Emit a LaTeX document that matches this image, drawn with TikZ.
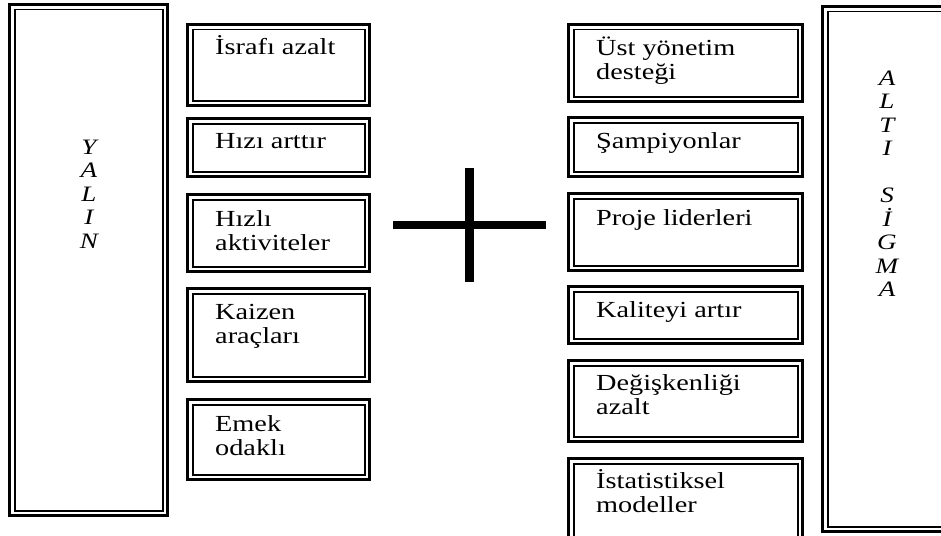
\documentclass[tikz,border=0pt]{standalone}
\usepackage{fontspec}
\setmainfont[FakeStretch=1.23]{Liberation Serif}
\begin{document}
\begin{tikzpicture}[x=1pt,y=-1pt,
  dbox/.style={draw=black, line width=3.2pt, rectangle, inner sep=0pt, outer sep=0pt, anchor=north west,
    path picture={\draw[line width=1.8pt] ([shift={(5pt,-5pt)}]path picture bounding box.north west) rectangle ([shift={(-5pt,5pt)}]path picture bounding box.south east);}},
  btext/.style={anchor=base west, inner sep=0pt, font=\fontsize{23}{24}\selectfont, align=left},
  vlet/.style={anchor=base, inner sep=0pt, font=\fontsize{22}{24}\selectfont\itshape},
  bar/.style={line width=#1, draw=black}
]
\useasboundingbox (0,0) rectangle (941,535);
\clip (0,0) rectangle (941,535);
% tall boxes
\node[dbox, minimum width=158pt, minimum height=511pt] (yalin) at (9.6,4.6) {};
\node[dbox, minimum width=129pt, minimum height=525pt] (alti) at (822.6,6.6) {};
% left column boxes
\node[dbox, minimum width=182pt, minimum height=81pt] (l1) at (187.6,24.6) {};
\node[dbox, minimum width=182pt, minimum height=58pt] (l2) at (187.6,118.6) {};
\node[dbox, minimum width=182pt, minimum height=77pt] (l3) at (187.6,194.6) {};
\node[dbox, minimum width=182pt, minimum height=93pt] (l4) at (187.6,288.6) {};
\node[dbox, minimum width=182pt, minimum height=80pt] (l5) at (187.6,399.6) {};
% right column boxes
\node[dbox, minimum width=234pt, minimum height=77pt] (r1) at (568.6,24.6) {};
\node[dbox, minimum width=234pt, minimum height=59pt] (r2) at (568.6,117.6) {};
\node[dbox, minimum width=234pt, minimum height=77pt] (r3) at (568.6,193.6) {};
\node[dbox, minimum width=234pt, minimum height=57pt] (r4) at (568.6,286.6) {};
\node[dbox, minimum width=234pt, minimum height=81pt] (r5) at (568.6,360.6) {};
\node[dbox, minimum width=234pt, minimum height=95pt] (r6) at (568.6,458.6) {};
% texts left (base = last line's baseline)
\node[btext] (tl1) at (215,55) {İsrafı azalt};
\node[btext] (tl2) at (215,148) {Hızı arttır};
\node[btext] (tl3) at (215,250) {Hızlı\\aktiviteler};
\node[btext] (tl4) at (215,343) {Kaizen\\araçları};
\node[btext] (tl5) at (215,455) {Emek\\odaklı};
% texts right
\node[btext] (tr1) at (596,79) {Üst yönetim\\desteği};
\node[btext] (tr2) at (596,148) {Şampiyonlar};
\node[btext] (tr3) at (596,225) {Proje liderleri};
\node[btext] (tr4) at (596,317) {Kaliteyi artır};
\node[btext] (tr5) at (596,414) {Değişkenliği\\azalt};
\node[btext] (tr6) at (596,512) {İstatistiksel\\modeller};
% vertical words
\foreach \l [count=\i] in {Y,A,L,I,N}
  \node[vlet] (y\i) at (89,{154+23.5*(\i-1)}) {\l};
\foreach \l/\i in {A/1,L/2,T/3,I/4,S/6,İ/7,G/8,M/9,A/10}
  \node[vlet] (s\i) at (887,{85+23.5*(\i-1)}) {\l};
% plus sign
\coordinate (pt) at (469.5,168);
\coordinate (pb) at (469.5,282);
\coordinate (pl) at (393,225);
\coordinate (pr) at (546,225);
\draw[bar=9pt] (pt) -- (pb);
\draw[bar=8pt] (pl) -- (pr);
\end{tikzpicture}
\end{document}
